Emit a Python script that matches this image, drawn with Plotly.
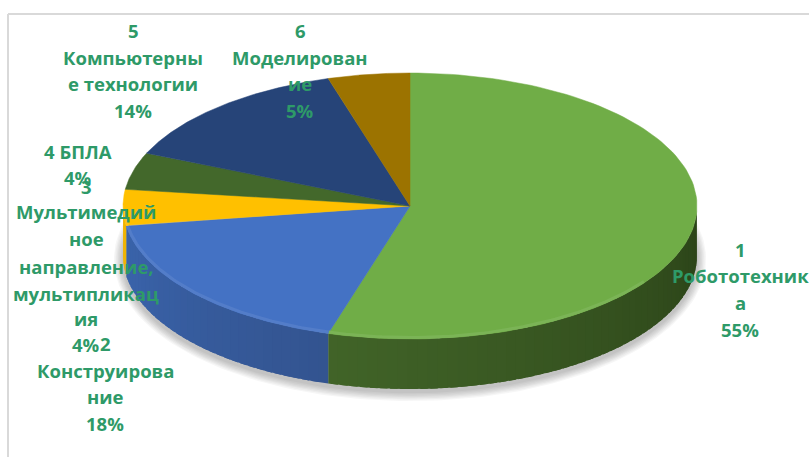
import numpy as np
import plotly.graph_objects as go

# Data
categories = ["1 Робототехника", "2 Конструирование", "3 Мультимедийное направление, мультипликация",
              "4 БПЛА", "5 Компьютерные технологии", "6 Моделирование"]
values = [54.6, 18.0, 4.4, 4.5, 13.9, 4.6]
percent_labels = ["55%", "18%", "4%", "4%", "14%", "5%"]
label_lines = [
    ["1", "Робототехник", "а", "55%"],
    ["2", "Конструирова", "ние", "18%"],
    ["3", "Мультимедий", "ное", "направление,", "мультипликац", "ия", "4%"],
    ["4 БПЛА", "4%"],
    ["5", "Компьютерны", "е технологии", "14%"],
    ["6", "Моделирован", "ие", "5%"],
]
top_colors = ["#70ad47", "#4472c4", "#ffc000", "#43682b", "#264478", "#9c7300"]
wall_near = ["#2b4318", "#335490", "#f0b400", "#43682b", "#264478", "#9c7300"]
wall_far = ["#416428", "#3a64ac", "#f0b400", "#43682b", "#264478", "#9c7300"]

# Layout of the tilted pie, in page pixels
CX, CY, RX, RY, DEPTH = 410, 206, 287, 133, 50
W, H = 809, 457
TEXT = "#2e9a68"
label_pos = [
    (740, [249, 275, 302, 329]),
    (105, [343, 370, 396, 423]),
    (86, [186, 211, 238, 266, 293, 318, 344]),
    (78, [151, 177]),
    (133, [30, 57, 83, 110]),
    (300, [30, 57, 83, 110]),
]


def ell(t, dy=0.0, grow=0.0):
    return CX + (RX + grow) * np.sin(t), CY + dy + (RY + grow) * -np.cos(t)


def mix(a, b, f):
    ca = [int(a[i:i + 2], 16) for i in (1, 3, 5)]
    cb = [int(b[i:i + 2], 16) for i in (1, 3, 5)]
    return "rgb(%d,%d,%d)" % tuple(round(x + (y - x) * f) for x, y in zip(ca, cb))


def lighten(c, f):
    return mix(c, "#ffffff", f)


fig = go.Figure()

# soft shadow under the pie
tt = np.linspace(0, 2 * np.pi, 240)
for k in range(7, 0, -1):
    x, y = ell(tt, dy=DEPTH + 3, grow=k * 1.3)
    fig.add_trace(go.Scatter(x=x, y=y, mode="lines", fill="toself", line=dict(width=0),
                             fillcolor="rgba(0,0,0,0.035)", hoverinfo="skip", showlegend=False))

edges = 2 * np.pi * np.concatenate([[0], np.cumsum(values)]) / sum(values)

# outer wall, visible only on the front half; strips overlap so no seams show
OVER = np.radians(1.5)
for i in range(len(values)):
    a, b = max(edges[i], np.pi / 2), min(edges[i + 1], 3 * np.pi / 2)
    if b <= a:
        continue
    n = max(int((b - a) / np.radians(2)), 1)
    steps = np.linspace(a, b, n + 1)
    for j in range(n):
        s = np.linspace(steps[j], min(steps[j + 1] + OVER, b), 5)
        xt, yt = ell(s)
        xb, yb = ell(s[::-1], dy=DEPTH)
        f = (steps[j] - a) / (b - a)
        col = mix(wall_near[i], wall_far[i], f)
        fig.add_trace(go.Scatter(x=np.r_[xt, xb], y=np.r_[yt, yb], mode="lines", fill="toself",
                                 fillcolor=col, line=dict(width=0),
                                 hoverinfo="skip", showlegend=False))

# top face
for i, (cat, col) in enumerate(zip(categories, top_colors)):
    s = np.linspace(edges[i], edges[i + 1], 120)
    x, y = ell(s)
    fig.add_trace(go.Scatter(x=np.r_[CX, x, CX], y=np.r_[CY, y, CY], mode="lines", fill="toself",
                             fillcolor=col, line=dict(color=col, width=0.5), name=cat,
                             text=cat, hoverinfo="text", showlegend=False))

# bevel: a lighter rim along the front of the top face
for i, col in enumerate(top_colors):
    a, b = max(edges[i], np.radians(125)), min(edges[i + 1], np.radians(268))
    if b <= a:
        continue
    x, y = ell(np.linspace(a, b, 80), grow=-1.5)
    fig.add_trace(go.Scatter(x=x, y=y, mode="lines", line=dict(color=lighten(col, 0.08), width=3),
                             hoverinfo="skip", showlegend=False))

# chart frame
shapes = [
    dict(type="line", xref="x", yref="y", x0=8, x1=8, y0=14, y1=H, line=dict(color="#d9d9d9", width=2)),
    dict(type="line", xref="x", yref="y", x0=8, x1=W, y0=14, y1=14, line=dict(color="#d9d9d9", width=2)),
]

# labels, one annotation per line to keep the original line spacing
annotations = []
for lines, (lx, ys) in zip(label_lines, label_pos):
    for line, ly in zip(lines, ys):
        annotations.append(dict(x=lx, y=ly, xref="x", yref="y", text="<b>%s</b>" % line, showarrow=False,
                                xanchor="center", yanchor="middle",
                                font=dict(family="Open Sans", size=18.5, color=TEXT)))

fig.update_layout(
    width=W, height=H, margin=dict(l=0, r=0, t=0, b=0),
    paper_bgcolor="white", plot_bgcolor="white", showlegend=False,
    xaxis=dict(range=[0, W], visible=False, fixedrange=True),
    yaxis=dict(range=[H, 0], visible=False, fixedrange=True),
    shapes=shapes, annotations=annotations,
)
fig.write_html("out.html", config=dict(displayModeBar=False),
               post_script="document.body.style.margin='0';document.documentElement.style.overflow='hidden';")
